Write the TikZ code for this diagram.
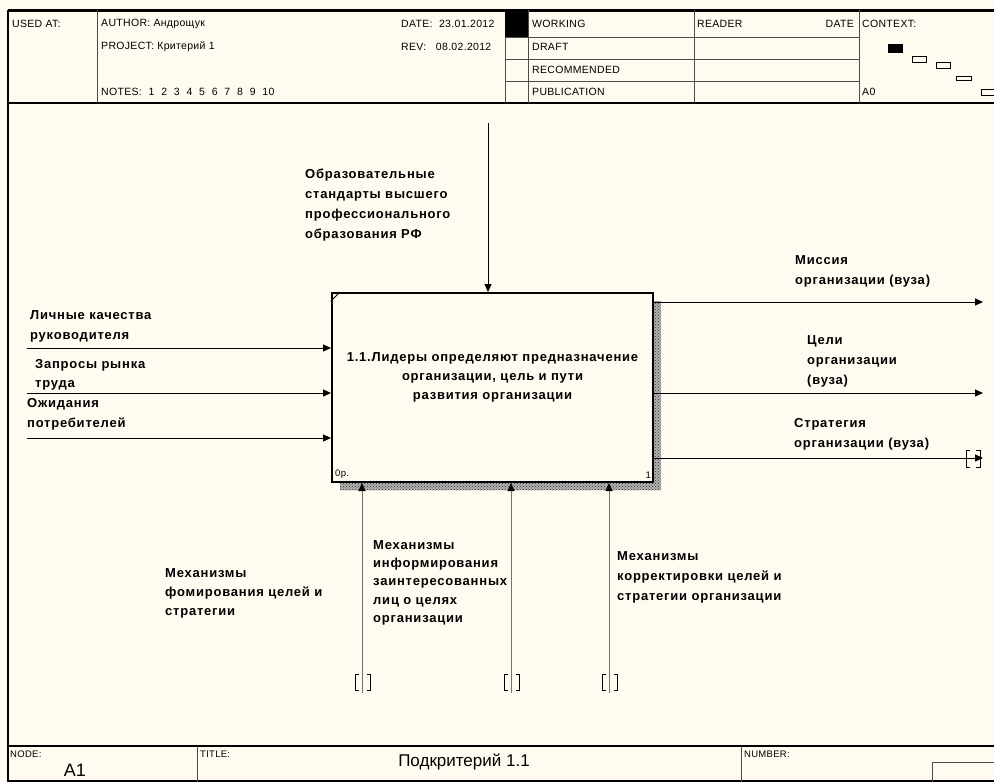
\documentclass[tikz,border=0pt]{standalone}
\usepackage{fontspec}
\setmainfont{Liberation Sans}
\newfontfamily\lblfont[LetterSpace=6]{Liberation Sans}
\newfontfamily\hdrfont[LetterSpace=3]{Liberation Sans}
\usetikzlibrary{positioning,arrows.meta,patterns}
\definecolor{paper}{RGB}{255,251,240}

\begin{document}
\begin{tikzpicture}[
        x=1pt, y=-1pt,
        hdr/.style={anchor=west, inner sep=0pt, font=\hdrfont\fontsize{10.5}{12}\selectfont},
        small/.style={hdr, font=\hdrfont\fontsize{9.5}{11}\selectfont},
        lbl/.style={anchor=north west, inner sep=0pt, align=left,
            font=\lblfont\bfseries\fontsize{13}{20}\selectfont},
        fn/.style={draw, line width=2pt, fill=paper, inner sep=0pt,
            minimum width=321pt, minimum height=189pt},
        arr/.style={line width=1pt, -{Triangle[length=8pt,width=7pt]}},
        mech/.style={line width=1pt, draw=black!55,
            -{Triangle[length=8pt,width=7pt,color=black]}},
        grid/.style={line width=1pt, draw=black!70},
        tunnel/.style={line width=1pt}
    ]
    \useasboundingbox (0,0) rectangle (994,782);
    \fill[paper] (0,0) rectangle (994,782);
    \clip (0,0) rectangle (994,782);

    % frame
    \draw[line width=3pt] (8,10) -- (994,10);
    \draw[line width=1.5pt] (8,10) -- (8,782);
    \draw[line width=2pt] (8,103) -- (994,103);
    \draw[line width=2pt] (8,746) -- (994,746);
    \draw[line width=2pt] (8,781) -- (994,781);

    % header
    \foreach \x in {97,505,528,694,859}
        \draw[grid] (\x,10) -- (\x,103);
    \foreach \y in {37,59,81}
        \draw[grid] (505,\y) -- (859,\y);
    \fill (505,10) rectangle (528,37);

    \node[hdr] (usedat) at (12,24) {USED AT:};
    \node[hdr] (author) at (101,24) {AUTHOR:\ Андрощук};
    \node[hdr] (project) at (101,47) {PROJECT:\ Критерий 1};
    \node[hdr] (notes) at (101,92) {\spaceskip=6.8pt NOTES: 1 2 3 4 5 6 7 8 9 10};
    \node[hdr] (date) at (401,24) {DATE:\ \ 23.01.2012};
    \node[hdr] (rev) at (401,47) {REV:\ \ \ 08.02.2012};
    \node[hdr] (working) at (532,24) {WORKING};
    \node[hdr] (draft) at (532,47) {DRAFT};
    \node[hdr] (recommended) at (532,70) {RECOMMENDED};
    \node[hdr] (publication) at (532,92) {PUBLICATION};
    \node[hdr] (reader) at (697,24) {READER};
    \node[hdr, anchor=east] (readerdate) at (854,24) {DATE};
    \node[hdr] (context) at (862,24) {CONTEXT:};
    \node[hdr] (contextnode) at (862,92) {A0};

    % context map
    \fill (888,44) rectangle (903,53);
    \draw[line width=1pt] (912.5,56.5) rectangle (926.5,62.5);
    \draw[line width=1pt] (936.5,62.5) rectangle (950.5,68.5);
    \draw[line width=1pt] (956.5,76.5) rectangle (971.5,80.5);
    \draw[line width=1pt] (981.5,89.5) rectangle (1000,95.5);

    % activity box
    \fill[black!30] (340,301) rectangle (661,490);
    \fill[pattern=crosshatch dots, pattern color=black!85] (340,301) rectangle (661,490);
    \node[fn] (A11) at (492.5,387.5) {};
    \node[lbl, align=center, anchor=center,
        font=\lblfont\bfseries\fontsize{13}{19}\selectfont] (A11text)
        at ([yshift=10.5pt]A11.center)
        {1.1.Лидеры определяют предназначение\\организации, цель и пути\\развития организации};
    \draw[line width=1pt] ([yshift=-9pt]A11.north west) -- ([xshift=9pt]A11.north west);
    \node[small, anchor=south west] (A11cost) at ([shift={(4pt,4pt)}]A11.south west) {0p.};
    \node[small, anchor=south east] (A11num) at ([shift={(-3pt,4pt)}]A11.south east) {1};

    % control
    \coordinate (ctrl) at (488,123);
    \draw[arr] (ctrl) -- (ctrl |- A11.north);
    \node[lbl] (ctrllbl) at (305,169)
        {Образовательные\\стандарты высшего\\профессионального\\образования РФ};

    % inputs
    \coordinate (in1) at (27,348);
    \coordinate (in2) at (27,393);
    \coordinate (in3) at (27,438);
    \draw[arr] (in1) -- (in1 -| A11.west);
    \draw[arr] (in2) -- (in2 -| A11.west);
    \draw[arr] (in3) -- (in3 -| A11.west);
    \node[lbl] (in1lbl) at (30,310) {Личные качества\\руководителя};
    \node[lbl, font=\lblfont\bfseries\fontsize{13}{19}\selectfont] (in2lbl) at (35,359)
        {Запросы рынка\\труда};
    \node[lbl] (in3lbl) at (27,398) {Ожидания\\потребителей};

    % outputs
    \coordinate (out1) at (983,302);
    \coordinate (out2) at (983,393);
    \coordinate (out3) at (983,458);
    \draw[arr] (out1 -| A11.east) -- (out1);
    \draw[arr] (out2 -| A11.east) -- (out2);
    \draw[arr] (out3 -| A11.east) -- (out3);
    \draw[tunnel] (970,450) -- ++(-4,0) -- ++(0,17) -- ++(4,0);
    \draw[tunnel] (976,450) -- ++(4,0) -- ++(0,17) -- ++(-4,0);
    \node[lbl] (out1lbl) at (795,255) {Миссия\\организации (вуза)};
    \node[lbl] (out2lbl) at (807,335) {Цели\\организации\\(вуза)};
    \node[lbl] (out3lbl) at (794,418) {Стратегия\\организации (вуза)};

    % mechanisms
    \coordinate (m1) at (362,693);
    \coordinate (m2) at (511,693);
    \coordinate (m3) at (609,693);
    \draw[mech] (m1) -- (m1 |- A11.south);
    \draw[mech] (m2) -- (m2 |- A11.south);
    \draw[mech] (m3) -- (m3 |- A11.south);
    \foreach \mx in {362,511,609} {
        \draw[tunnel] (\mx-3.5,674) -- ++(-3.5,0) -- ++(0,16) -- ++(3.5,0);
        \draw[tunnel] (\mx+5,674) -- ++(3.5,0) -- ++(0,16) -- ++(-3.5,0);
    }
    \node[lbl, font=\lblfont\bfseries\fontsize{13}{19}\selectfont] (m1lbl) at (165,568)
        {Механизмы\\фомирования целей и\\стратегии};
    \node[lbl, font=\lblfont\bfseries\fontsize{13}{18.4}\selectfont] (m2lbl) at (373,540)
        {Механизмы\\информирования\\заинтересованных\\лиц о целях\\организации};
    \node[lbl] (m3lbl) at (617,551)
        {Механизмы\\корректировки целей и\\стратегии организации};

    % footer
    \foreach \x in {197,741}
        \draw[grid] (\x,746) -- (\x,782);
    \draw[grid] (932,782) -- (932,762) -- (994,762);
    \node[small] (nodelbl) at (10,754) {NODE:};
    \node[font=\fontsize{18}{20}\selectfont] (nodeid) at (75,770) {A1};
    \node[small] (titlelbl) at (200,754) {TITLE:};
    \node[font=\fontsize{17}{20}\selectfont] (title) at (464,762) {Подкритерий 1.1};
    \node[small] (numberlbl) at (744,754) {NUMBER:};
\end{tikzpicture}
\end{document}
